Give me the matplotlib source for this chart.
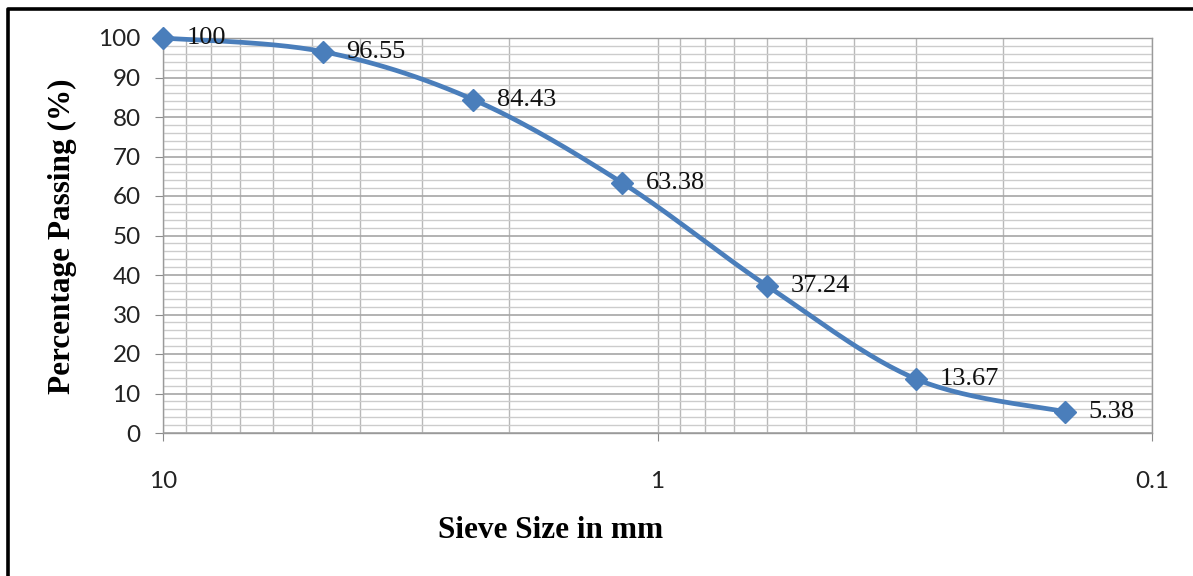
import matplotlib

matplotlib.use("Agg")

import matplotlib.pyplot as plt
import numpy as np
from matplotlib.lines import Line2D
from matplotlib.ticker import FixedLocator, LogLocator, NullFormatter, MultipleLocator

# sieve analysis data
sieve_size = [10, 4.75, 2.36, 1.18, 0.6, 0.3, 0.15]
passing = [100, 96.55, 84.43, 63.38, 37.24, 13.67, 5.38]
point_labels = ["100", "96.55", "84.43", "63.38", "37.24", "13.67", "5.38"]
x_ticks = [10, 1, 0.1]
x_tick_labels = ["10", "1", "0.1"]

LINE_COLOR = "#4a7ebb"
W, H = 1193, 576

fig = plt.figure(figsize=(W / 100, H / 100), dpi=100)
ax = fig.add_axes([163 / W, 1 - 433 / H, (1152 - 163) / W, (433 - 38) / H])

ax.set_xscale("log")
ax.set_xlim(10, 0.1)
ax.set_ylim(0, 100)

# grid
ax.xaxis.set_major_locator(FixedLocator(x_ticks))
ax.xaxis.set_minor_locator(LogLocator(base=10, subs=np.arange(2, 10)))
ax.xaxis.set_minor_formatter(NullFormatter())
ax.yaxis.set_major_locator(MultipleLocator(10))
ax.yaxis.set_minor_locator(MultipleLocator(2))
ax.grid(True, axis="x", which="both", color="#b8b8b8", lw=1.0)
ax.grid(True, axis="y", which="major", color="#a6a6a6", lw=1.2)
ax.grid(True, axis="y", which="minor", color="#cccccc", lw=1.0)
ax.set_axisbelow(True)

for side in ax.spines.values():
    side.set_color("#9a9a9a")
    side.set_linewidth(1.0)

ax.set_xticklabels(x_tick_labels)
ax.tick_params(axis="both", which="major", direction="out", length=6, color="#8a8a8a",
               labelsize=17.5, labelcolor="#222222")
ax.tick_params(axis="x", which="major", pad=21)
ax.tick_params(axis="y", which="major", pad=10)
ax.tick_params(axis="both", which="minor", length=0)
for lab in ax.get_xticklabels() + ax.get_yticklabels():
    lab.set_family("Lato")

# smoothed line (Catmull-Rom style, in display space like Excel smoothing)
fig.canvas.draw()
pts = ax.transData.transform(np.column_stack([sieve_size, passing]))
curve = [pts[0]]
for i in range(len(pts) - 1):
    p0 = pts[i - 1] if i > 0 else pts[i]
    p1, p2 = pts[i], pts[i + 1]
    p3 = pts[i + 2] if i + 2 < len(pts) else pts[i + 1]
    c1 = p1 + (p2 - p0) / 6
    c2 = p2 - (p3 - p1) / 6
    for t in np.linspace(0, 1, 30)[1:]:
        b = (1 - t) ** 3 * p1 + 3 * (1 - t) ** 2 * t * c1 + 3 * (1 - t) * t ** 2 * c2 + t ** 3 * p2
        curve.append(b)
curve = ax.transData.inverted().transform(np.array(curve))
ax.plot(curve[:, 0], curve[:, 1], color=LINE_COLOR, lw=3.4, solid_capstyle="round", zorder=3, clip_on=False)
ax.plot(sieve_size, passing, ls="none", marker="D", ms=11.5, color=LINE_COLOR, zorder=4, clip_on=False)

for x, y, txt in zip(sieve_size, passing, point_labels):
    ax.annotate(txt, (x, y), xytext=(17, 0), textcoords="offset points", ha="left", va="center",
                fontsize=19, family="Liberation Serif", color="#111111", zorder=5)

fig.text(62 / W, 1 - 236 / H, "Percentage Passing (%)", rotation=90, ha="center", va="center",
         fontsize=22.5, fontweight="bold", family="Liberation Serif")
fig.text(551 / W, 1 - 530 / H, "Sieve Size in mm", ha="center", va="center",
         fontsize=22.5, fontweight="bold", family="Liberation Serif")

# outer chart frame (cropped on right and bottom)
fig.add_artist(Line2D([8 / W, 8 / W, 1.0], [0.0, 1 - 9 / H, 1 - 9 / H],
                      transform=fig.transFigure, color="black", lw=2.6))

fig.savefig("out.png", dpi=100)
plt.close(fig)
